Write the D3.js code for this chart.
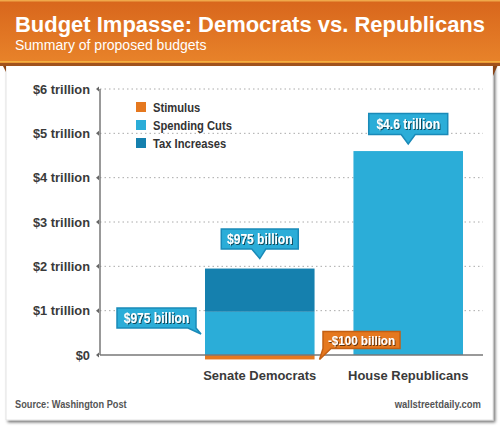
<!DOCTYPE html>
<html><head><meta charset="utf-8">
<script src="https://cdn.jsdelivr.net/npm/d3@7"></script>
<style>
html,body{margin:0;padding:0;background:#fff;}
svg{display:block;}
.cond{font-family:"Liberation Sans",Arial,sans-serif;font-weight:bold;}
</style></head>
<body>
<script>
const categories = ["Senate Democrats", "House Republicans"];
const stimulus = [-0.1, 0];
const spendingCuts = [0.975, 4.6];
const taxIncreases = [0.975, 0];
const yTicks = [0, 1, 2, 3, 4, 5, 6];
const yTickLabels = ["$0", "$1 trillion", "$2 trillion", "$3 trillion", "$4 trillion", "$5 trillion", "$6 trillion"];
const seriesNames = ["Stimulus", "Spending Cuts", "Tax Increases"];
const seriesColors = ["#e5781f", "#2badd8", "#1580ae"];
const title = "Budget Impasse: Democrats vs. Republicans";
const subtitle = "Summary of proposed budgets";
const source = "Source: Washington Post";
const site = "wallstreetdaily.com";

const W = 500, H = 431;
const svg = d3.select("body").append("svg").attr("width", W).attr("height", H);
const defs = svg.append("defs");

function condense(sel, f){
  sel.each(function(){
    const L = this.getComputedTextLength();
    d3.select(this).attr("textLength", L*f).attr("lengthAdjust","spacingAndGlyphs");
  });
  return sel;
}

const grad = defs.append("linearGradient").attr("id","bannerGrad").attr("x1",0).attr("y1",0).attr("x2",0).attr("y2",1);
grad.append("stop").attr("offset","0%").attr("stop-color","#d8661c");
grad.append("stop").attr("offset","100%").attr("stop-color","#e8832a");

const sh = defs.append("filter").attr("id","shadow").attr("x","-5%").attr("y","-5%").attr("width","115%").attr("height","115%");
sh.append("feGaussianBlur").attr("in","SourceAlpha").attr("stdDeviation",1.5);
sh.append("feOffset").attr("dx",2).attr("dy",2).attr("result","ob");
sh.append("feComponentTransfer").append("feFuncA").attr("type","linear").attr("slope",0.55);
const mg = sh.append("feMerge"); mg.append("feMergeNode"); mg.append("feMergeNode").attr("in","SourceGraphic");

const ts = defs.append("filter").attr("id","textShadow").attr("x","-10%").attr("y","-20%").attr("width","130%").attr("height","150%");
ts.append("feGaussianBlur").attr("in","SourceAlpha").attr("stdDeviation",0.6);
ts.append("feOffset").attr("dx",0.8).attr("dy",1);
ts.append("feComponentTransfer").append("feFuncA").attr("type","linear").attr("slope",0.6);
const mg2 = ts.append("feMerge"); mg2.append("feMergeNode"); mg2.append("feMergeNode").attr("in","SourceGraphic");

// card
svg.append("rect").attr("x",6).attr("y",60).attr("width",487).attr("height",360).attr("fill","#fff").attr("stroke","#ddd").attr("stroke-width",0.8).attr("filter","url(#shadow)");

// banner folds
svg.append("path").attr("d","M0,60 L6,60 L6,72 Z").attr("fill","#8a4416");
svg.append("path").attr("d","M500,60 L493,60 L493,76 Z").attr("fill","#8a4416");
svg.append("rect").attr("x",0).attr("y",61).attr("width",W).attr("height",5).attr("fill","#a0521c");
// banner
svg.append("rect").attr("x",0).attr("y",0).attr("width",W).attr("height",63).attr("fill","url(#bannerGrad)");
svg.append("rect").attr("x",0).attr("y",0).attr("width",W).attr("height",1.5).attr("fill","#f0a84a");
svg.append("rect").attr("x",0).attr("y",61).attr("width",W).attr("height",1.5).attr("fill","#f2b040");

svg.append("text").attr("x",15).attr("y",32).attr("fill","#fff")
  .style("font-family","'Liberation Sans',Arial,sans-serif").style("font-weight","bold").style("font-size","21.5px")
  .attr("textLength",470).attr("lengthAdjust","spacingAndGlyphs").text(title);
svg.append("text").attr("x",15).attr("y",50).attr("fill","#fff")
  .style("font-family","'Liberation Sans',Arial,sans-serif").style("font-size","14px").text(subtitle);

// scales
const y = d3.scaleLinear().domain([0, 6]).range([355, 89]);
const x = d3.scaleBand().domain(categories).range([205, 463]).paddingInner(0.262).paddingOuter(0);
const axisX = 100, plotRight = 483;

// gridlines
svg.append("g").selectAll("line").data(yTicks.filter(d=>d>0)).join("line")
  .attr("x1",axisX).attr("x2",plotRight).attr("y1",d=>y(d)).attr("y2",d=>y(d))
  .attr("stroke","#aaa").attr("stroke-width",1).attr("stroke-dasharray","1.5,3");

// bars
const stacks = categories.map((c,i)=>[
  {c, y0: stimulus[i], y1: 0, color: seriesColors[0]},
  {c, y0: 0, y1: spendingCuts[i], color: seriesColors[1]},
  {c, y0: spendingCuts[i], y1: spendingCuts[i] + taxIncreases[i], color: seriesColors[2]}
]).flat().filter(d=>d.y1 !== d.y0);

svg.append("g").selectAll("rect").data(stacks).join("rect")
  .attr("x",d=>x(d.c)).attr("width",x.bandwidth())
  .attr("y",d=>y(Math.max(d.y0,d.y1))).attr("height",d=>Math.abs(y(d.y0)-y(d.y1)))
  .attr("fill",d=>d.color);

// axes lines
svg.append("line").attr("x1",axisX).attr("x2",axisX).attr("y1",y(6)).attr("y2",y(0)).attr("stroke","#777").attr("stroke-width",1.5);
svg.append("line").attr("x1",axisX).attr("x2",plotRight).attr("y1",y(0)).attr("y2",y(0)).attr("stroke","#777").attr("stroke-width",1.5);

// y ticks
const tg = svg.append("g").selectAll("g").data(yTicks).join("g").attr("transform",d=>`translate(0,${y(d)})`);
tg.append("path").attr("d",`M${axisX-4},0 L${axisX-1},-2.5 L${axisX-1},2.5 Z`).attr("fill","#666");
condense(tg.append("text").attr("class","cond").attr("x",90).attr("y",4.5).attr("text-anchor","end")
  .attr("fill","#3a3a3a").style("font-size","13.5px").text((d,i)=>yTickLabels[i]), 0.95);

// category labels
condense(svg.append("g").selectAll("text").data(categories).join("text").attr("class","cond")
  .attr("x",d=>x(d)+x.bandwidth()/2).attr("y",380).attr("text-anchor","middle")
  .attr("fill","#3a3a3a").style("font-size","13.5px").text(d=>d), 0.96);

// legend
const lg = svg.append("g").selectAll("g").data(seriesNames).join("g")
  .attr("transform",(d,i)=>`translate(136,${102 + i*18})`);
lg.append("rect").attr("width",10).attr("height",10).attr("fill",(d,i)=>seriesColors[i]);
condense(lg.append("text").attr("class","cond").attr("x",17).attr("y",10).attr("fill","#333").style("font-size","13px").text(d=>d), 0.86);

// callouts
function fmt(v){
  if (Math.abs(v) >= 1) return "$" + d3.format(".1f")(v) + " trillion";
  const b = Math.round(v*1000);
  return (b<0?"-":"") + "$" + Math.abs(b) + " billion";
}
function callout(cx, cy, w, h, tip, pointerBase, fill, stroke, label, fs){
  const x0 = cx - w/2, y0 = cy - h/2, x1 = cx + w/2, y1 = cy + h/2;
  const path = `M${x0},${y0} L${x1},${y0} L${x1},${y1} L${pointerBase[1]},${y1} L${tip[0]},${tip[1]} L${pointerBase[0]},${y1} L${x0},${y1} Z`;
  const g = svg.append("g");
  g.append("path").attr("d",path).attr("fill",fill).attr("stroke",stroke).attr("stroke-width",1.5).attr("stroke-linejoin","miter");
  const t = g.append("text").attr("class","cond").attr("x",cx).attr("y",cy+5).attr("text-anchor","middle")
    .attr("fill","#fff").style("font-size",(fs||14)+"px").attr("filter","url(#textShadow)").text(label);
  condense(t, 0.86);
}
const demX = x(categories[0]), repX = x(categories[1]), bw = x.bandwidth();
callout(demX + bw/2, 239, 77, 20, [demX + bw/2, y(spendingCuts[0]+taxIncreases[0]) - 10], [demX + bw/2 - 8, demX + bw/2 + 6],
  seriesColors[1], "#1a8ab8", fmt(taxIncreases[0]));
callout(156.5, 318, 79, 20, [demX - 4, 334], [188, 196], seriesColors[1], "#1a8ab8", fmt(spendingCuts[0]));
callout(361.5, 340, 77, 17, [demX + bw + 5, y(stimulus[0])], [323, 331], "#e5781f", "#c45f12", fmt(stimulus[0]), 13.5);
callout(repX + bw/2, 124, 79, 21, [repX + bw/2, y(spendingCuts[1]) - 7], [repX + bw/2 - 7, repX + bw/2 + 7],
  seriesColors[1], "#1a8ab8", fmt(spendingCuts[1]));

// footer
condense(svg.append("text").attr("class","cond").attr("x",15).attr("y",408).attr("fill","#555").style("font-size","11.5px").text(source), 0.8);
condense(svg.append("text").attr("class","cond").attr("x",481).attr("y",408).attr("text-anchor","end").attr("fill","#555").style("font-size","11.5px").text(site), 0.82);
</script>
</body></html>
